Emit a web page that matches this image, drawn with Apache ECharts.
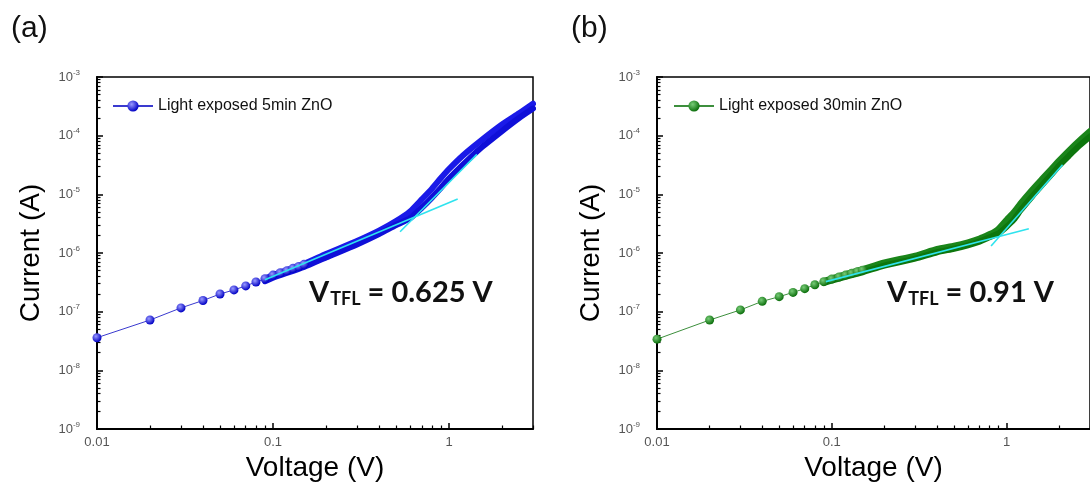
<!DOCTYPE html>
<html>
<head>
<meta charset="utf-8">
<script src="https://cdn.jsdelivr.net/npm/echarts@6/dist/echarts.min.js"></script>
<style>
  html, body { margin: 0; padding: 0; background: #fff; }
  #chart { width: 1090px; height: 493px; }
</style>
</head>
<body>
<div id="chart"></div>
<script>
// ---- data (V in volts, I in amps) ----
const xMajorTicks = [0.01, 0.1, 1]
const yMajorTicks = [1e-9, 1e-8, 1e-7, 1e-6, 1e-5, 1e-4, 1e-3]
const minorSteps = [2, 3, 4, 5, 6, 7, 8, 9]

// (a) light exposed 5 min
const aSparseV = [0.01, 0.02, 0.03, 0.04, 0.05, 0.06, 0.07, 0.08, 0.09, 0.1, 0.11, 0.12, 0.13, 0.14, 0.15]
const aSparseI = [3.6e-8, 7.2e-8, 1.16e-7, 1.55e-7, 2.0e-7, 2.35e-7, 2.75e-7, 3.2e-7, 3.65e-7, 4.2e-7, 4.6e-7, 5.0e-7, 5.5e-7, 5.9e-7, 6.4e-7]
// dense part: upper and lower edge of the measured band (two sweeps)
const aBandV = [0.09, 0.1, 0.15, 0.2, 0.3, 0.4, 0.5, 0.6, 0.7, 0.8, 0.9, 1.0, 1.2, 1.5, 2.0, 2.5, 3.0]
const aUpperI = [3.6e-7, 4.2e-7, 6.5e-7, 9.6e-7, 1.6e-6, 2.4e-6, 3.5e-6, 5.1e-6, 8.2e-6, 1.25e-5, 1.9e-5, 2.7e-5, 4.6e-5, 8.0e-5, 1.55e-4, 2.4e-4, 3.5e-4]
const aLowerI = [3.3e-7, 3.8e-7, 5.8e-7, 8.4e-7, 1.4e-6, 2.1e-6, 3.0e-6, 3.9e-6, 5.9e-6, 8.8e-6, 1.3e-5, 1.85e-5, 3.2e-5, 6.0e-5, 1.2e-4, 2.0e-4, 2.9e-4]
const aFitLowV = [0.09, 1.12]
const aFitLowI = [3.5e-7, 8.3e-6]
const aFitHighV = [0.527, 1.44]
const aFitHighI = [2.3e-6, 4.8e-5]

// (b) light exposed 30 min
const bSparseV = [0.01, 0.02, 0.03, 0.04, 0.05, 0.06, 0.07, 0.08, 0.09, 0.1, 0.11, 0.12, 0.13, 0.14, 0.15]
const bSparseI = [3.4e-8, 7.2e-8, 1.07e-7, 1.5e-7, 1.8e-7, 2.13e-7, 2.47e-7, 2.87e-7, 3.25e-7, 3.6e-7, 3.9e-7, 4.2e-7, 4.5e-7, 4.8e-7, 5.1e-7]
const bBandV = [0.09, 0.1, 0.15, 0.2, 0.3, 0.4, 0.5, 0.6, 0.7, 0.8, 0.85, 0.9, 1.0, 1.1, 1.2, 1.4, 1.6, 1.8, 2.0, 2.3, 2.6, 3.0]
const bUpperI = [3.3e-7, 3.7e-7, 5.3e-7, 6.9e-7, 9.0e-7, 1.17e-6, 1.33e-6, 1.52e-6, 1.76e-6, 2.1e-6, 2.3e-6, 2.6e-6, 3.7e-6, 5.0e-6, 7.0e-6, 1.2e-5, 1.85e-5, 2.7e-5, 3.8e-5, 5.8e-5, 8.2e-5, 1.2e-4]
const bLowerI = [3.1e-7, 3.4e-7, 4.7e-7, 6.1e-7, 8.0e-7, 1.03e-6, 1.18e-6, 1.35e-6, 1.56e-6, 1.85e-6, 2.0e-6, 2.15e-6, 2.8e-6, 3.7e-6, 5.3e-6, 9.2e-6, 1.45e-5, 2.15e-5, 3.1e-5, 4.7e-5, 6.7e-5, 9.7e-5]
const bFitLowV = [0.0925, 1.34]
const bFitLowI = [3.25e-7, 2.6e-6]
const bFitHighV = [0.815, 2.09]
const bFitHighI = [1.32e-6, 3.2e-5]

const zip = (xs, ys) => xs.map((x, i) => [x, ys[i]])

const minorOf = (majors) => {
  const out = []
  majors.slice(0, -1).forEach((m) => minorSteps.forEach((k) => out.push(+(m * k).toPrecision(3))))
  return out
}
const xMinorTicks = minorOf([0.01, 0.1, 1, 10]).filter((v) => v <= 3)
const yMinorTicks = minorOf(yMajorTicks)

const FONT = '"Liberation Sans", Arial, sans-serif'
const CYAN = '#2fe3ee'

const ball = (hi, lo) => ({
  type: 'radial', x: 0.38, y: 0.35, r: 0.65,
  colorStops: [{ offset: 0, color: hi }, { offset: 1, color: lo }],
})

const grids = [
  { left: 97, top: 77, width: 436, height: 352 },
  { left: 657, top: 77, width: 437, height: 352 },
]

const xAxes = []
const yAxes = []
grids.forEach((g, i) => {
  xAxes.push({
    type: 'log', logBase: 10, gridIndex: i, min: 0.01, max: 3, position: 'bottom',
    name: 'Voltage (V)', nameLocation: 'middle', nameGap: 22,
    nameTextStyle: { fontFamily: FONT, fontSize: 28, color: '#000' },
    axisLine: { lineStyle: { color: '#000', width: 2 } },
    axisTick: { inside: true, length: 6, lineStyle: { color: '#000', width: 1.5 }, customValues: xMajorTicks },
    axisLabel: {
      customValues: xMajorTicks, margin: 7, fontFamily: FONT, fontSize: 13, color: '#555',
      formatter: (v) => (v >= 1 ? String(Math.round(v)) : String(+v.toPrecision(2))),
    },
    splitLine: { show: false },
  })
  xAxes.push({
    type: 'log', logBase: 10, gridIndex: i, min: 0.01, max: 3, position: 'bottom',
    axisLine: { show: false },
    axisTick: { inside: true, length: 3.5, lineStyle: { color: '#000', width: 1.2 }, customValues: xMinorTicks },
    axisLabel: { show: false },
    splitLine: { show: false },
  })
  yAxes.push({
    type: 'log', logBase: 10, gridIndex: i, min: 1e-9, max: 1e-3, position: 'left',
    name: 'Current (A)', nameLocation: 'middle', nameGap: 52, nameRotate: 90,
    nameTextStyle: { fontFamily: FONT, fontSize: 28, color: '#000' },
    axisLine: { lineStyle: { color: '#000', width: 2 } },
    axisTick: { inside: true, length: 6, lineStyle: { color: '#000', width: 1.5 }, customValues: yMajorTicks },
    axisLabel: {
      customValues: yMajorTicks, margin: 17,
      formatter: (v) => '{m|10}{e|' + Math.round(Math.log10(v)) + '}',
      rich: {
        m: { fontFamily: FONT, fontSize: 13, color: '#555' },
        e: { fontFamily: FONT, fontSize: 8, color: '#555', padding: [0, 0, 9, 0] },
      },
    },
    splitLine: { show: false },
  })
  yAxes.push({
    type: 'log', logBase: 10, gridIndex: i, min: 1e-9, max: 1e-3, position: 'left',
    axisLine: { show: false },
    axisTick: { inside: true, length: 3.5, lineStyle: { color: '#000', width: 1.2 }, customValues: yMinorTicks },
    axisLabel: { show: false },
    splitLine: { show: false },
  })
})

const panelSeries = (idx, name, sv, si, bv, bands, fits, c) => [
  ...bands.map((bi, k) => ({
    name: name + ' sweep ' + (k + 1), type: 'line', xAxisIndex: idx * 2, yAxisIndex: idx * 2,
    data: zip(bv, bi), showSymbol: false, smooth: 0.2, z: 2,
    lineStyle: { color: k === 0 ? c.band : c.band2, width: 6, cap: 'round', join: 'round' },
  })),
  {
    name: name, type: 'line', xAxisIndex: idx * 2, yAxisIndex: idx * 2,
    data: zip(sv, si), symbol: 'circle', symbolSize: 9, z: 3,
    itemStyle: { color: ball(c.hi, c.lo), borderWidth: 0 },
    lineStyle: { color: c.thin, width: 1 },
  },
  ...fits.map((f) => ({
    name: name + ' fit', type: 'line', xAxisIndex: idx * 2, yAxisIndex: idx * 2,
    data: zip(f[0], f[1]), showSymbol: false, z: 4,
    lineStyle: { color: CYAN, width: 1.6 },
  })),
]

const blue = { band: '#1a1ae8', band2: '#0f0fd8', hi: '#9a9aff', lo: '#0000c4', thin: '#3a3acf' }
const green = { band: '#1a851a', band2: '#0d760d', hi: '#78cc78', lo: '#0b6e0b', thin: '#3d8f3d' }

const vtfl = (left, value) => ({
  type: 'text', left: left, top: 278,
  style: {
    text: '{v|V}{s|TFL}{v| = ' + value + ' V}',
    rich: {
      v: { fontFamily: 'Lato, "Open Sans", sans-serif', fontWeight: 'bold', fontSize: 29, fill: '#111', lineHeight: 34 },
      s: { fontFamily: 'Lato, "Open Sans", sans-serif', fontWeight: 'bold', fontSize: 18, fill: '#111', padding: [14, 0, 0, 1] },
    },
  },
})

const legendStyle = (left, name) => ({
  left: left, top: 93, data: [name], itemWidth: 40, itemHeight: 14,
  textStyle: { fontFamily: FONT, fontSize: 16, color: '#111' },
})

const chart = echarts.init(document.getElementById('chart'), null, { renderer: 'canvas' })
chart.setOption({
  backgroundColor: '#fff',
  animation: false,
  grid: grids.map((g) => Object.assign({ show: true, borderColor: '#000', borderWidth: 1.5, backgroundColor: 'transparent' }, g)),
  xAxis: xAxes,
  yAxis: yAxes,
  legend: [
    legendStyle(107, 'Light exposed 5min ZnO'),
    legendStyle(668, 'Light exposed 30min ZnO'),
  ],
  graphic: [
    { type: 'text', left: 11, top: 14, style: { text: '(a)', fontFamily: FONT, fontSize: 30, fill: '#111' } },
    { type: 'text', left: 571, top: 14, style: { text: '(b)', fontFamily: FONT, fontSize: 30, fill: '#111' } },
    vtfl(309, '0.625'),
    vtfl(887, '0.91'),
  ],
  series: [
    ...panelSeries(0, 'Light exposed 5min ZnO', aSparseV, aSparseI, aBandV, [aUpperI, aLowerI],
      [[aFitLowV, aFitLowI], [aFitHighV, aFitHighI]], blue),
    ...panelSeries(1, 'Light exposed 30min ZnO', bSparseV, bSparseI, bBandV, [bUpperI, bLowerI],
      [[bFitLowV, bFitLowI], [bFitHighV, bFitHighI]], green),
  ],
})
</script>
</body>
</html>
